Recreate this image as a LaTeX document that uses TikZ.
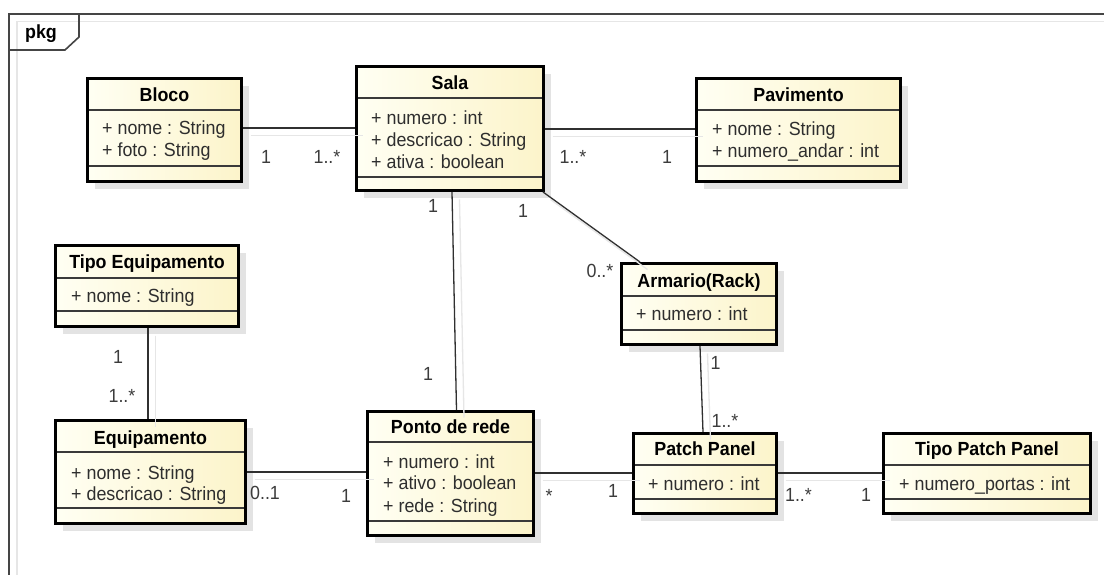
\documentclass[tikz,border=0pt]{standalone}
\usepackage{fontspec}
\setmainfont[FakeStretch=0.94]{Liberation Sans}
\usetikzlibrary{calc,shadows}
\definecolor{clsL}{HTML}{FFFFF3}
\definecolor{clsR}{HTML}{FCF4CA}
\definecolor{shd}{HTML}{E3E3E3}
\definecolor{lshd}{HTML}{E6E6E6}
\definecolor{divc}{HTML}{3A3A3A}
\definecolor{attrc}{HTML}{2E2E2E}
\definecolor{multc}{HTML}{3C3C3C}
\definecolor{linec}{HTML}{303030}
\definecolor{framec}{HTML}{454545}
\tikzset{
  cls/.style={draw=black, line width=3pt, left color=clsL, right color=clsR,
    inner sep=0pt, anchor=north west,
    drop shadow={shadow xshift=7.5pt, shadow yshift=-7.5pt, fill=shd, opacity=1}},
  divline/.style={draw=divc, line width=1.3pt},
  nm/.style={font={\bfseries\fontsize{19}{22}\selectfont}, text=black, inner sep=0pt,
    text height=13.6pt, text depth=0pt},
  attr/.style={font={\fontsize{19}{22}\selectfont}, text=attrc, inner sep=0pt,
    anchor=west, text height=13.6pt, text depth=0pt},
  mult/.style={font={\fontsize{19}{22}\selectfont}, text=multc, inner sep=0pt,
    text height=13.6pt, text depth=0pt},
  assoc/.style={draw=linec, line width=1.3pt},
  lshadow/.style={draw=lshd, line width=1.3pt},
  frameline/.style={draw=framec, line width=1.6pt},
  frameshd/.style={draw=lshd, line width=1.3pt},
}
\begin{document}
\begin{tikzpicture}[x=1pt,y=-1pt]
\useasboundingbox (0,0) rectangle (1104,575);
\fill[white] (0,0) rectangle (1104,575);

% frame
\draw[frameshd] (17,575) -- (17,21.5) -- (1104,21.5);
\draw[frameline] (9,575) -- (9,14) -- (1104,14);
\draw[frameline] (9,50) -- (65,50) -- (79,37) -- (79,14);
\node[nm] (pkg) at (41,32) {pkg};

% ---------- classes ----------
% Bloco
\node[cls, minimum width=154pt, minimum height=103pt] (bloco) at (86,77) {};
\draw[divline] ($(bloco.north west)+(3,33)$) -- ($(bloco.north east)+(-3,33)$);
\draw[divline] ($(bloco.north west)+(3,89)$) -- ($(bloco.north east)+(-3,89)$);
\node[nm] (blocoN) at ($(bloco.north)+(0,18)$) {Bloco};
\node[attr] (blocoA1) at ($(bloco.north west)+(16,51)$) {+ nome : String};
\node[attr] (blocoA2) at ($(bloco.north west)+(16,73)$) {+ foto : String};

% Sala
\node[cls, minimum width=187pt, minimum height=124pt] (sala) at (355,65) {};
\draw[divline] ($(sala.north west)+(3,33)$) -- ($(sala.north east)+(-3,33)$);
\draw[divline] ($(sala.north west)+(3,112)$) -- ($(sala.north east)+(-3,112)$);
\node[nm] (salaN) at ($(sala.north)+(0,18)$) {Sala};
\node[attr] (salaA1) at ($(sala.north west)+(16,53)$) {+ numero : int};
\node[attr] (salaA2) at ($(sala.north west)+(16,75)$) {+ descricao : String};
\node[attr] (salaA3) at ($(sala.north west)+(16,97)$) {+ ativa : boolean};

% Pavimento
\node[cls, minimum width=204pt, minimum height=103pt] (pav) at (695,77) {};
\draw[divline] ($(pav.north west)+(3,33)$) -- ($(pav.north east)+(-3,33)$);
\draw[divline] ($(pav.north west)+(3,89)$) -- ($(pav.north east)+(-3,89)$);
\node[nm] (pavN) at ($(pav.north)+(0,18)$) {Pavimento};
\node[attr] (pavA1) at ($(pav.north west)+(17,52)$) {+ nome : String};
\node[attr] (pavA2) at ($(pav.north west)+(17,74)$) {+ numero\_andar : int};

% Tipo Equipamento
\node[cls, minimum width=183pt, minimum height=81pt] (tipoeq) at (54,244) {};
\draw[divline] ($(tipoeq.north west)+(3,34)$) -- ($(tipoeq.north east)+(-3,34)$);
\draw[divline] ($(tipoeq.north west)+(3,67)$) -- ($(tipoeq.north east)+(-3,67)$);
\node[nm] (tipoeqN) at ($(tipoeq.north)+(0,18)$) {Tipo Equipamento};
\node[attr] (tipoeqA1) at ($(tipoeq.north west)+(17,52)$) {+ nome : String};

% Armario(Rack)
\node[cls, minimum width=155pt, minimum height=81pt] (arm) at (620,262) {};
\draw[divline] ($(arm.north west)+(3,34)$) -- ($(arm.north east)+(-3,34)$);
\draw[divline] ($(arm.north west)+(3,68)$) -- ($(arm.north east)+(-3,68)$);
\node[nm] (armN) at ($(arm.north)+(0,19)$) {Armario(Rack)};
\node[attr] (armA1) at ($(arm.north west)+(16,52)$) {+ numero : int};

% Equipamento
\node[cls, minimum width=190pt, minimum height=103pt] (equip) at (54,419) {};
\draw[divline] ($(equip.north west)+(3,33)$) -- ($(equip.north east)+(-3,33)$);
\draw[divline] ($(equip.north west)+(3,89)$) -- ($(equip.north east)+(-3,89)$);
\node[nm] (equipN) at ($(equip.north)+(0,19)$) {Equipamento};
\node[attr] (equipA1) at ($(equip.north west)+(17,53.5)$) {+ nome : String};
\node[attr] (equipA2) at ($(equip.north west)+(17,74.5)$) {+ descricao : String};

% Ponto de rede
\node[cls, minimum width=166pt, minimum height=124pt] (ponto) at (366,410) {};
\draw[divline] ($(ponto.north west)+(3,32)$) -- ($(ponto.north east)+(-3,32)$);
\draw[divline] ($(ponto.north west)+(3,111)$) -- ($(ponto.north east)+(-3,111)$);
\node[nm] (pontoN) at ($(ponto.north)+(0,16.5)$) {Ponto de rede};
\node[attr] (pontoA1) at ($(ponto.north west)+(17,51.5)$) {+ numero : int};
\node[attr] (pontoA2) at ($(ponto.north west)+(17,73)$) {+ ativo : boolean};
\node[attr] (pontoA3) at ($(ponto.north west)+(17,95.5)$) {+ rede : String};

% Patch Panel
\node[cls, minimum width=143pt, minimum height=80pt] (pp) at (632,432) {};
\draw[divline] ($(pp.north west)+(3,33)$) -- ($(pp.north east)+(-3,33)$);
\draw[divline] ($(pp.north west)+(3,67)$) -- ($(pp.north east)+(-3,67)$);
\node[nm] (ppN) at ($(pp.north)+(0,17)$) {Patch Panel};
\node[attr] (ppA1) at ($(pp.north west)+(16,51.5)$) {+ numero : int};

% Tipo Patch Panel
\node[cls, minimum width=207pt, minimum height=80pt] (tpp) at (882,432) {};
\draw[divline] ($(tpp.north west)+(3,33)$) -- ($(tpp.north east)+(-3,33)$);
\draw[divline] ($(tpp.north west)+(3,67)$) -- ($(tpp.north east)+(-3,67)$);
\node[nm] (tppN) at ($(tpp.north)+(0,17)$) {Tipo Patch Panel};
\node[attr] (tppA1) at ($(tpp.north west)+(17,51.5)$) {+ numero\_portas : int};

% ---------- connector end points ----------
\coordinate (e1a) at (bloco.east |- 0,128);
\coordinate (e1b) at (sala.west |- 0,128);
\coordinate (e2a) at (sala.east |- 0,129);
\coordinate (e2b) at (pav.west |- 0,129);
\coordinate (e3a) at ($(sala.south east)+(-2,0)$);
\coordinate (e3b) at ($(arm.north west)+(20,0)$);
\coordinate (e4a) at ($(sala.south)+(2,0)$);
\coordinate (e4b) at ($(ponto.north)+(6,0)$);
\coordinate (e5a) at (tipoeq.south -| 148,0);
\coordinate (e5b) at (equip.north -| 148,0);
\coordinate (e6a) at (equip.east |- 0,472);
\coordinate (e6b) at (ponto.west |- 0,472);
\coordinate (e7a) at (ponto.east |- 0,473);
\coordinate (e7b) at (pp.west |- 0,473);
\coordinate (e8a) at ($(arm.south)+(1,0)$);
\coordinate (e8b) at ($(pp.north)+(-2,0)$);
\coordinate (e9a) at (pp.east |- 0,473);
\coordinate (e9b) at (tpp.west |- 0,473);

% line shadows
\foreach \a/\b in {e1a/e1b,e2a/e2b,e3a/e3b,e4a/e4b,e5a/e5b,e6a/e6b,e7a/e7b,e8a/e8b,e9a/e9b}
  \draw[lshadow] ($(\a)+(7.5,7.5)$) -- ($(\b)+(7.5,7.5)$);

% connectors
\draw[assoc] (e1a) -- (e1b);
\draw[assoc] (e2a) -- (e2b);
\draw[assoc] (e3a) -- (e3b);
\draw[assoc] (e4a) -- (e4b);
\draw[assoc] (e5a) -- (e5b);
\draw[assoc] (e6a) -- (e6b);
\draw[assoc] (e7a) -- (e7b);
\draw[assoc] (e8a) -- (e8b);
\draw[assoc] (e9a) -- (e9b);

% multiplicities
\node[mult] (m1a) at (266,157) {1};
\node[mult] (m1b) at (327,157) {1..*};
\node[mult] (m2a) at (573,157) {1..*};
\node[mult] (m2b) at (667,157) {1};
\node[mult] (m3a) at (523,211) {1};
\node[mult] (m3b) at (600,271) {0..*};
\node[mult] (m4a) at (433,206) {1};
\node[mult] (m4b) at (428,374) {1};
\node[mult] (m5a) at (118,356.5) {1};
\node[mult] (m5b) at (122,395.5) {1..*};
\node[mult] (m6a) at (265,493) {0..1};
\node[mult] (m6b) at (346,495.5) {1};
\node[mult] (m7a) at (549,496) {*};
\node[mult] (m7b) at (613,490.5) {1};
\node[mult] (m8a) at (715.5,362.5) {1};
\node[mult] (m8b) at (725,421) {1..*};
\node[mult] (m9a) at (798.5,495) {1..*};
\node[mult] (m9b) at (866,495) {1};
\end{tikzpicture}
\end{document}
